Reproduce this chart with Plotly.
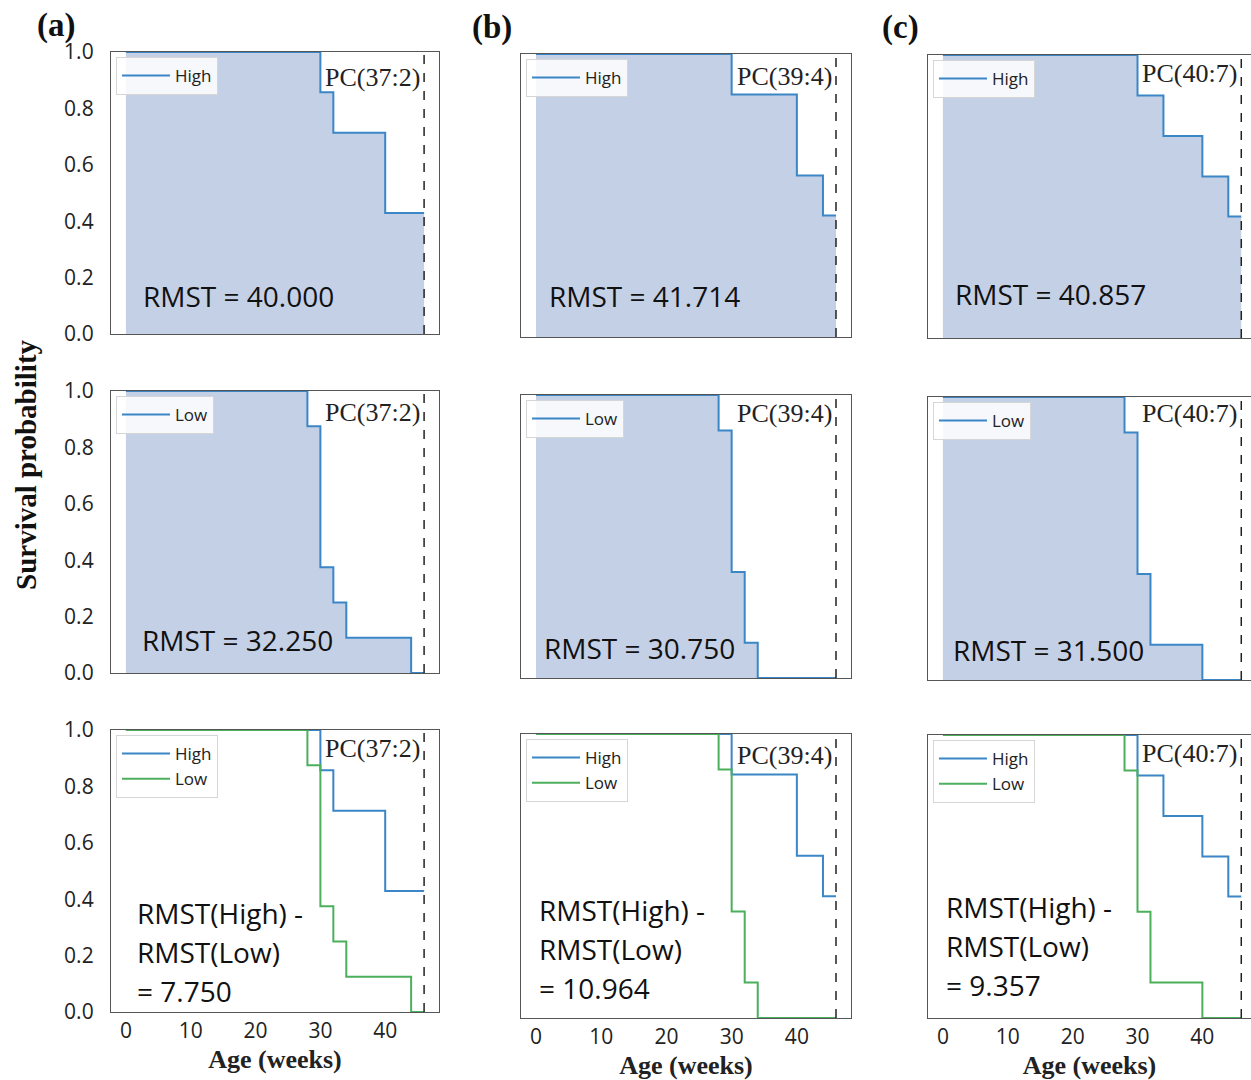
import plotly.graph_objects as go

# ---------------- data ----------------
horizon = 46  # restriction time (weeks), dashed line

panel_tags = ["(a)", "(b)", "(c)"]
pc_labels = ["PC(37:2)", "PC(39:4)", "PC(40:7)"]

high_times = [[0, 30, 32, 40], [0, 30, 40, 44], [0, 30, 34, 40, 44]]
high_surv = [[1.0, 0.857, 0.714, 0.429],
             [1.0, 0.857, 0.571, 0.429],
             [1.0, 0.857, 0.714, 0.571, 0.429]]

low_times = [[0, 28, 30, 32, 34, 44], [0, 28, 30, 32, 34], [0, 28, 30, 32, 40]]
low_surv = [[1.0, 0.875, 0.375, 0.25, 0.125, 0.0],
            [1.0, 0.875, 0.375, 0.125, 0.0],
            [1.0, 0.875, 0.375, 0.125, 0.0]]

rmst_high = ["40.000", "41.714", "40.857"]
rmst_low = ["32.250", "30.750", "31.500"]
rmst_diff = ["7.750", "10.964", "9.357"]

x_ticks = [0, 10, 20, 30, 40]
y_ticks = [0.0, 0.2, 0.4, 0.6, 0.8, 1.0]

# ---------------- styling / layout ----------------
W, H = 1251, 1080
BLUE = "#3a86c6"
GREEN = "#4caf5c"
FILL = "rgba(196,208,230,1)"
FRAME = "#555555"
SANS = "Open Sans"
SERIF = "Liberation Serif"

col_px = [(111, 439), (521, 851), (928, 1251)]
row_px = [[(52, 334), (391, 673), (730, 1012)],
          [(54, 337), (395, 678), (734, 1018)],
          [(55, 338), (397, 680), (735, 1018)]]
x_ranges = [[-2.3, 48.3], [-2.3, 48.3], [-2.3, 47.5]]

rmst_pos = [[(0.09, 0.135), (0.088, 0.117), (0.073, 0.213)],
            [(0.079, 0.145), (0.064, 0.106), (0.048, 0.243)],
            [(0.076, 0.155), (0.07, 0.106), (0.05, 0.254)]]
pc_y = [[0.908, 0.922, 0.933], [0.919, 0.936, 0.926], [0.936, 0.943, 0.933]]


def px(x):
    return x / W


def py(y):
    return 1 - y / H


def ext(t, s):
    return list(t) + [horizon], list(s) + [s[-1]]


fig = go.Figure()
layout = dict(
    width=W, height=H, margin=dict(l=0, r=0, t=0, b=0, autoexpand=False),
    paper_bgcolor="white", plot_bgcolor="white", showlegend=True,
)
annotations = []
shapes = []

for c in range(3):
    for r in range(3):
        idx = r * 3 + c + 1
        xa = "x" if idx == 1 else f"x{idx}"
        ya = "y" if idx == 1 else f"y{idx}"
        leg = "legend" if idx == 1 else f"legend{idx}"
        x0, x1 = col_px[c]
        y0, y1 = row_px[c][r]

        layout["xaxis" if idx == 1 else f"xaxis{idx}"] = dict(
            domain=[px(x0), min(1.0, px(x1))], anchor=ya, range=x_ranges[c],
            showgrid=False, zeroline=False, showline=True, linecolor=FRAME,
            linewidth=1.3, mirror=True, ticks="", automargin=False,
            tickvals=x_ticks, showticklabels=(r == 2),
            tickfont=dict(family=SANS, size=21, color="#222"),
            fixedrange=True,
        )
        if r == 2:
            layout["xaxis" if idx == 1 else f"xaxis{idx}"]["title"] = dict(
                text="<b>Age (weeks)</b>", font=dict(family=SERIF, size=26, color="#222"),
                standoff=6)
        layout["yaxis" if idx == 1 else f"yaxis{idx}"] = dict(
            domain=[py(y1), py(y0)], anchor=xa, range=[0, 1],
            showgrid=False, zeroline=False, showline=True, linecolor=FRAME,
            linewidth=1.3, mirror=(c != 2), ticks="", automargin=False,
            tickvals=y_ticks, tickformat=".1f", showticklabels=(c == 0),
            ticklabelstandoff=12,
            tickfont=dict(family=SANS, size=21, color="#222"),
            fixedrange=True,
        )

        # curves
        hx, hy = ext(high_times[c], high_surv[c])
        lx, ly = ext(low_times[c], low_surv[c])
        if r == 0:
            fig.add_trace(go.Scatter(x=hx, y=hy, mode="lines", line_shape="hv",
                                     line=dict(width=0), fill="tozeroy", fillcolor=FILL,
                                     showlegend=False, hoverinfo="skip", xaxis=xa, yaxis=ya))
            fig.add_trace(go.Scatter(x=hx, y=hy, mode="lines", line_shape="hv",
                                     line=dict(color=BLUE, width=2), name="High",
                                     legend=leg, xaxis=xa, yaxis=ya))
        elif r == 1:
            fig.add_trace(go.Scatter(x=lx, y=ly, mode="lines", line_shape="hv",
                                     line=dict(width=0), fill="tozeroy", fillcolor=FILL,
                                     showlegend=False, hoverinfo="skip", xaxis=xa, yaxis=ya))
            fig.add_trace(go.Scatter(x=lx, y=ly, mode="lines", line_shape="hv",
                                     line=dict(color=BLUE, width=2), name="Low",
                                     legend=leg, xaxis=xa, yaxis=ya))
        else:
            fig.add_trace(go.Scatter(x=hx, y=hy, mode="lines", line_shape="hv",
                                     line=dict(color=BLUE, width=2), name="High",
                                     legend=leg, xaxis=xa, yaxis=ya))
            fig.add_trace(go.Scatter(x=lx, y=ly, mode="lines", line_shape="hv",
                                     line=dict(color=GREEN, width=2), name="Low",
                                     legend=leg, xaxis=xa, yaxis=ya))

        # legend box
        layout[leg] = dict(
            x=px(x0 + 5), y=py(y0 + 5), xanchor="left", yanchor="top",
            xref="paper", yref="paper",
            bgcolor="rgba(255,255,255,0.85)", bordercolor="#d6d6d6", borderwidth=1,
            font=dict(family=SANS, size=17, color="#222"), tracegroupgap=0,
            itemwidth=48,
        )

        # horizon dashed line
        shapes.append(dict(type="line", xref=xa, yref=f"{ya} domain",
                           x0=horizon, x1=horizon, y0=0, y1=1,
                           line=dict(color="#222", width=1.5, dash="dash")))

        # PC label
        annotations.append(dict(xref=xa, yref=f"{ya} domain", x=horizon, y=pc_y[c][r],
                                xanchor="right", yanchor="middle", xshift=-2,
                                text=pc_labels[c], showarrow=False,
                                font=dict(family=SERIF, size=26, color="#222")))

        # RMST text
        rx, ry = rmst_pos[c][r]
        if r == 0:
            lines = [f"RMST = {rmst_high[c]}"]
        elif r == 1:
            lines = [f"RMST = {rmst_low[c]}"]
        else:
            lines = ["RMST(High) -", "RMST(Low)", f"= {rmst_diff[c]}"]
        n = len(lines)
        for k, txt in enumerate(lines):
            annotations.append(dict(xref=f"{xa} domain", yref=f"{ya} domain", x=rx, y=ry,
                                    xanchor="left", yanchor="middle", align="left",
                                    yshift=((n - 1) / 2 - k) * 39,
                                    text=txt, showarrow=False,
                                    font=dict(family=SANS, size=28, color="#111")))

# panel letters
for c, (lx_, ly_) in enumerate([(35, 26), (470, 28), (880, 28)]):
    annotations.append(dict(xref="paper", yref="paper", x=px(lx_), y=py(ly_),
                            xanchor="left", yanchor="middle", text=f"<b>{panel_tags[c]}</b>",
                            showarrow=False, font=dict(family=SERIF, size=33, color="#111")))

# y-axis title
annotations.append(dict(xref="paper", yref="paper", x=px(26), y=py(465),
                        xanchor="center", yanchor="middle", textangle=-90,
                        text="<b>Survival probability</b>", showarrow=False,
                        font=dict(family=SERIF, size=29, color="#111")))

layout["annotations"] = annotations
layout["shapes"] = shapes
fig.update_layout(**layout)
fig.write_html("out.html")
